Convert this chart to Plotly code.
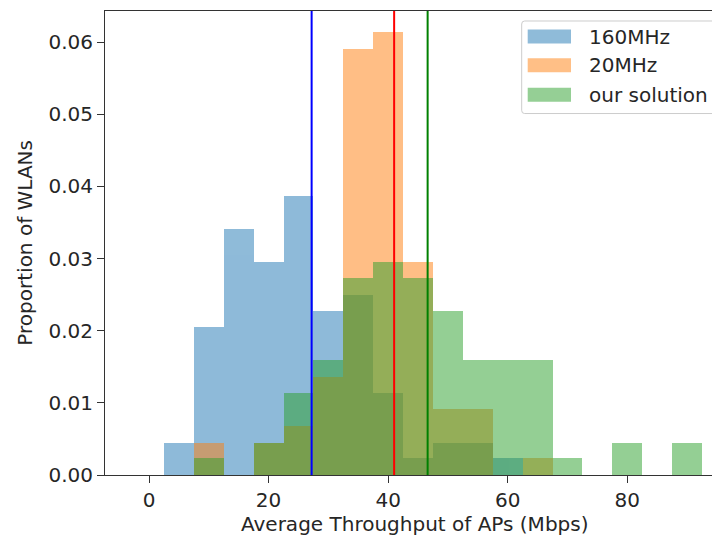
import plotly.graph_objects as go

# ---- data ----
bin_centers = [5, 10, 15, 20, 25, 30, 35, 40, 45, 50, 55, 60, 65, 70, 75, 80, 85, 90]
bin_width = 5
mhz160 = [0.0045, 0.0205, 0.0341, 0.0295, 0.0386, 0.0227, 0.0250, 0.0114, 0.0023,
          0.0045, 0.0045, 0.0023, 0, 0, 0, 0, 0, 0]
mhz20 = [0, 0.0045, 0, 0.0045, 0.0068, 0.0136, 0.0591, 0.0614, 0.0295,
         0.0091, 0.0091, 0, 0.0023, 0, 0, 0, 0, 0]
ours = [0, 0.0023, 0, 0.0045, 0.0114, 0.0159, 0.0273, 0.0295, 0.0273,
        0.0227, 0.0159, 0.0159, 0.0159, 0.0023, 0, 0.0045, 0, 0.0045]
series_names = ["160MHz", "20MHz", "our solution"]
series_colors = ["#1f77b4", "#ff7f0e", "#2ca02c"]
swatch_colors = ["#8fbbd9", "#ffbf86", "#95cf95"]
mean_values = [27.2, 41.0, 46.6]
mean_colors = ["#0000ff", "#ff0000", "#008000"]
x_ticks = [0, 20, 40, 60, 80]
y_ticks = [0.00, 0.01, 0.02, 0.03, 0.04, 0.05, 0.06]
x_title = "Average Throughput of APs (Mbps)"
y_title = "Proportion of WLANs"

FONT = "DejaVu Sans"
TXT = "#262626"

# page body has an 8px margin; the figure is sized to fill the rest of the window
OFF = 8
W, H = 720 - OFF, 537 - OFF
PL, PT, PB, PR = 105, 10.7, 475, 720   # plot area in window pixels
L, T = PL - OFF, PT - OFF
B = H - (PB - OFF)
R = W - (PR - OFF)
pw = PR - PL
ph = PB - PT
def px(x): return (x - PL) / pw
def py(y): return (PB - y) / ph

fig = go.Figure()
for name, vals, col in zip(series_names, [mhz160, mhz20, ours], series_colors):
    fig.add_trace(go.Bar(x=bin_centers, y=vals, width=bin_width, name=name,
                         marker=dict(color=col, line=dict(width=0)),
                         opacity=0.5, showlegend=False))

shapes = []
for xv, c in zip(mean_values, mean_colors):
    shapes.append(dict(type="line", xref="x", yref="paper", x0=xv, x1=xv, y0=0, y1=1,
                       line=dict(color=c, width=2), layer="above"))

# custom legend (matplotlib style)
bx0, bx1, by0, by1 = px(521.7), px(724), py(113.3), py(20.7)
rx, ry = 3 / pw, 3 / ph
path = (f"M{bx0+rx},{by1} L{bx1-rx},{by1} Q{bx1},{by1} {bx1},{by1-ry} "
        f"L{bx1},{by0+ry} Q{bx1},{by0} {bx1-rx},{by0} L{bx0+rx},{by0} "
        f"Q{bx0},{by0} {bx0},{by0+ry} L{bx0},{by1-ry} Q{bx0},{by1} {bx0+rx},{by1} Z")
shapes.append(dict(type="path", xref="paper", yref="paper", path=path,
                   fillcolor="rgba(255,255,255,0.8)", line=dict(color="#cccccc", width=1),
                   layer="above"))
centers = [36.3, 65.0, 94.5]
annotations = []
for yc, sc, name in zip(centers, swatch_colors, series_names):
    shapes.append(dict(type="rect", xref="paper", yref="paper",
                       x0=px(527.7), x1=px(571), y0=py(yc + 7), y1=py(yc - 7),
                       fillcolor=sc, line=dict(width=0), layer="above"))
    annotations.append(dict(xref="paper", yref="paper", x=px(587), y=py(yc),
                            xanchor="left", yanchor="middle", showarrow=False,
                            text=name, font=dict(family=FONT, size=20, color=TXT)))

annotations.append(dict(xref="paper", yref="paper", x=px(415), y=py(524),
                        xanchor="center", yanchor="middle", showarrow=False,
                        text=x_title, font=dict(family=FONT, size=20, color=TXT)))
annotations.append(dict(xref="paper", yref="paper", x=px(25.5), y=py(243),
                        xanchor="center", yanchor="middle", showarrow=False, textangle=-90,
                        text=y_title, font=dict(family=FONT, size=20, color=TXT)))

fig.update_layout(
    width=W, height=H,
    margin=dict(l=L, r=R, t=T, b=B, pad=0),
    paper_bgcolor="white", plot_bgcolor="white",
    barmode="overlay", bargap=0,
    shapes=shapes, annotations=annotations,
    font=dict(family=FONT, size=20, color=TXT),
)
fig.update_xaxes(range=[-7.36, 95.5], tickvals=x_ticks, ticktext=[str(v) for v in x_ticks],
                 ticks="outside", ticklen=7, tickwidth=1, tickcolor="#333",
                 showline=True, linecolor="#333", linewidth=1, mirror=True,
                 showgrid=False, zeroline=False,
                 tickfont=dict(family=FONT, size=20, color=TXT))
fig.update_yaxes(range=[0, 0.0643], tickvals=y_ticks, ticktext=[f"{v:.2f}" for v in y_ticks],
                 ticks="outside", ticklen=7, tickwidth=1, tickcolor="#333",
                 showline=True, linecolor="#333", linewidth=1, mirror=False,
                 showgrid=False, zeroline=False,
                 tickfont=dict(family=FONT, size=20, color=TXT))

fig.write_html("out.html")
